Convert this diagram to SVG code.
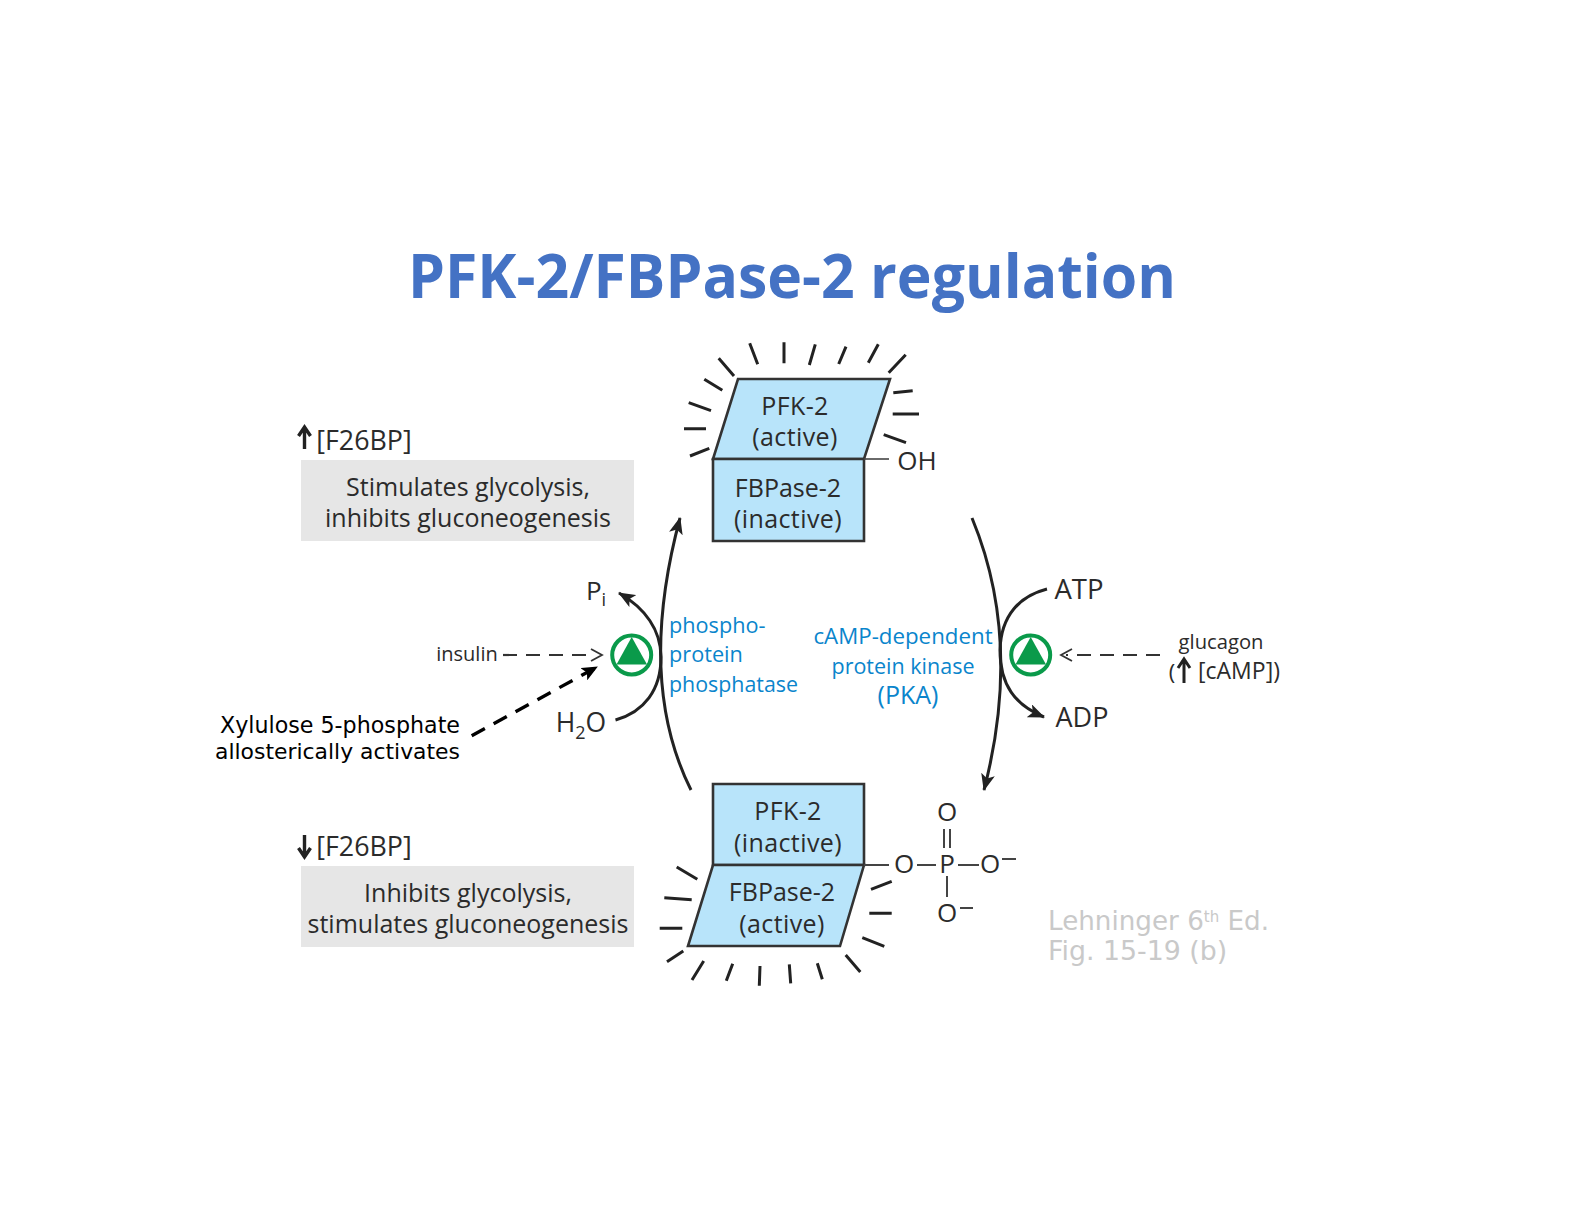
<svg xmlns="http://www.w3.org/2000/svg" width="1584" height="1224" viewBox="0 0 1584 1224">
<style>
text{font-family:"Open Sans","Noto Sans",sans-serif;fill:#2b2b2b;font-size:25px;text-anchor:middle}
.blue{fill:#0a85cc}
.box{fill:#b8e4fa;stroke:#333;stroke-width:2.6;stroke-linejoin:miter}
.ray{stroke:#222;stroke-width:3;stroke-linecap:butt;fill:none}
.curve{stroke:#222;stroke-width:3;fill:none}
.dash{stroke:#333;stroke-width:2.2;fill:none;stroke-dasharray:14 9}
.chev{stroke:#333;stroke-width:1.8;fill:none}
.thin{stroke:#444;stroke-width:1.6;fill:none}
.grey{fill:#e6e6e6}
.note{font-family:"DejaVu Sans",sans-serif;fill:#000;font-size:22.2px;text-anchor:end}
.cite{font-family:"DejaVu Sans",sans-serif;fill:#c9c9c9;font-size:26.8px;text-anchor:start}
.ring{fill:#fff;stroke:#0a9a4a;stroke-width:4}
.tri{fill:#0a9a4a}
.big{font-size:25px;letter-spacing:.4px}
.chem{font-size:26px}
.head{font-size:26.8px}
</style>
<defs>
<marker id="ah" viewBox="0 0 17 14" markerWidth="17" markerHeight="14" refX="16" refY="7" orient="auto" markerUnits="userSpaceOnUse"><path d="M0 0L17 7L0 14L4 7Z" fill="#222"/></marker>
<marker id="ahb" viewBox="0 0 16 14" markerWidth="16" markerHeight="14" refX="15" refY="7" orient="auto" markerUnits="userSpaceOnUse"><path d="M0 0L16 7L0 14L3.500 7Z" fill="#000"/></marker>
</defs>
<text id="title" x="792" y="298" style="font-family:'Open Sans',sans-serif;font-weight:700;font-size:61px;fill:#4472c4" textLength="768" lengthAdjust="spacingAndGlyphs">PFK-2/FBPase-2 regulation</text>

<g id="connectors">
<path class="curve" d="M691 790C656 720 650 630 680 518" marker-end="url(#ah)"/>
<path class="curve" d="M972 518C1006 600 1010 690 984 790" marker-end="url(#ah)"/>
<path class="curve" d="M615.500 720C644 712 661 690 661 657C661 630 645 608 619 593" marker-end="url(#ah)"/>
<path class="curve" d="M1047 589C1020 596 1001 615 1000 650C1000 685 1015 705 1044 717" marker-end="url(#ah)"/>
<path class="dash" d="M503 655H594"/>
<path class="chev" d="M591 649L602 655L591 661"/>
<path class="dash" d="M1160 655H1066"/>
<path class="chev" d="M1072 649L1061 655L1072 661"/>
<path d="M471.700 735.700L597 667" stroke="#000" stroke-width="3.400" fill="none" stroke-dasharray="15 10" marker-end="url(#ahb)"/>
</g>

<g id="node-top">
<path class="box" d="M738 379H890L864 459H713Z"/>
<path class="box" d="M713 459H864V541H713Z"/>
<path class="thin" d="M864 459H889"/>
<text class="big" x="795" y="415">PFK-2</text>
<text class="big" x="795" y="446">(active)</text>
<text x="788" y="497">FBPase-2</text>
<text class="big" x="788" y="528">(inactive)</text>
<text class="chem" x="917" y="470">OH</text>
<path class="ray" d="M690 456L709.300 448.300M684 428.700H706M688.700 402.700L711 410.700M704.300 379.300L722.300 390.300M718.700 358.300L734 376M749.700 343.300L757.700 364.300M784 342.300V363.300M815.300 344.300L809.300 365M846 346.700L838.700 364M878.300 344.300L868.300 362.700M905.700 354.700L888.700 372.700M893.300 392.700L912.700 390.700M892.700 414H919M883.700 434.700L906 442.700"/>
</g>

<g id="node-bottom">
<path class="box" d="M713 784H864V865H713Z"/>
<path class="box" d="M713 865H864L840 946H688Z"/>
<path class="thin" d="M864 865H889" style="stroke-width:2"/>
<text class="big" x="788" y="820">PFK-2</text>
<text class="big" x="788" y="852">(inactive)</text>
<text x="782" y="901">FBPase-2</text>
<text class="big" x="782" y="933">(active)</text>
<path class="ray" d="M676.700 867L697.300 879.300M664.300 897.700L691.700 899.700M659.700 928.300H682.300M667 961.700L683.300 951M692 980L703.700 961M726.300 980.700L732.700 963.700M759.300 985.700L760 966M790.700 983.300L789.300 964.300M822.300 979.300L817.300 963.300M860.300 972L845.700 955M884.300 946.300L862.300 937.700M891.700 913.300H869.300M891.700 881.300L871 889.300"/>
</g>

<g id="phosphate">
<text class="chem" x="947" y="821">O</text>
<text class="chem" x="904" y="873">O</text>
<text class="chem" x="947" y="873">P</text>
<text class="chem" x="990" y="873">O</text>
<text class="chem" x="947" y="922">O</text>
<path class="thin" d="M917 865H936M958 865H979M944 829V848M950 829V848M947 876V897M1002 859H1016M960 908H973" style="stroke-width:2"/>
</g>

<g id="label-up">
<text class="head" x="364" y="450">[F26BP]</text>
<path d="M304.500 449V429M298.500 436L304.500 427L310.500 436" stroke="#222" stroke-width="3.400" fill="none"/>
<rect class="grey" x="301" y="460" width="333" height="81"/>
<text x="468" y="496">Stimulates glycolysis,</text>
<text x="468" y="527">inhibits gluconeogenesis</text>
</g>
<g id="label-down">
<text class="head" x="364" y="856">[F26BP]</text>
<path d="M304.500 835V855M298.500 848L304.500 857L310.500 848" stroke="#222" stroke-width="3.400" fill="none"/>
<rect class="grey" x="301" y="866" width="333" height="81"/>
<text x="468" y="902">Inhibits glycolysis,</text>
<text x="468" y="933">stimulates gluconeogenesis</text>
</g>

<g id="enzyme-left">
<circle class="ring" cx="631.700" cy="655" r="19.500"/>
<path class="tri" d="M631.700 637L647 664.500H616.500Z"/>
<text x="467" y="661" style="font-size:20px">insulin</text>
<text class="chem" x="596" y="600">P<tspan dy="6" style="font-size:18px">i</tspan></text>
<text style="font-size:26.500px" x="581" y="732">H<tspan dy="7" style="font-size:18px">2</tspan><tspan dy="-7">O</tspan></text>
<text class="blue" x="669" y="633" style="font-size:21.700px;text-anchor:start">phospho-</text>
<text class="blue" x="669" y="662" style="font-size:21.700px;text-anchor:start">protein</text>
<text class="blue" x="669" y="692" style="font-size:21.400px;text-anchor:start">phosphatase</text>
<text class="note" x="460" y="733">Xylulose 5-phosphate</text>
<text class="note" x="460" y="759" style="font-size:21.900px">allosterically activates</text>
</g>

<g id="enzyme-right">
<circle class="ring" cx="1030.700" cy="655" r="19.500"/>
<path class="tri" d="M1030.700 637L1046 664.500H1015.500Z"/>
<text x="1079" y="599" style="font-size:27.500px">ATP</text>
<text x="1082" y="727" style="font-size:27px">ADP</text>
<text class="blue" x="903" y="644" style="font-size:22.300px">cAMP-dependent</text>
<text class="blue" x="903" y="674" style="font-size:21.500px">protein kinase</text>
<text class="blue" x="908" y="704" style="font-size:25px;font-weight:500">(PKA)</text>
<text x="1221" y="649" style="font-size:20.200px">glucagon</text>
<text x="1172" y="680" style="font-size:22px">(</text>
<path d="M1184 683V661M1178 668L1184 659L1190 668" stroke="#222" stroke-width="3" fill="none"/>
<text x="1239" y="679" style="font-size:23px">[cAMP])</text>
</g>

<g id="citation">
<text class="cite" x="1048" y="930" style="font-size:26.200px">Lehninger 6<tspan dy="-8" style="font-size:15px">th</tspan><tspan dy="8"> Ed.</tspan></text>
<text class="cite" x="1048" y="960">Fig. 15-19 (b)</text>
</g>
</svg>
